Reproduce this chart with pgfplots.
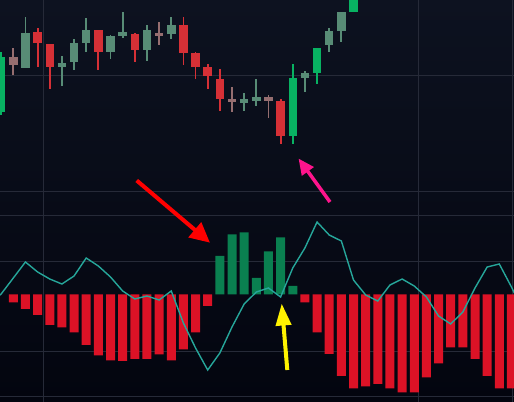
\documentclass[border=0pt]{standalone}
\usepackage{pgfplots}
\pgfplotsset{compat=1.18}
\usepackage{pgfplotstable}
\usetikzlibrary{arrows.meta}

\definecolor{bgtop}{RGB}{13,18,32}
\definecolor{bgbot}{RGB}{3,5,15}
\definecolor{gridc}{RGB}{38,42,56}
\definecolor{upbright}{RGB}{8,178,98}
\definecolor{upmuted}{RGB}{88,140,118}
\definecolor{dnred}{RGB}{214,48,54}
\definecolor{dnmuted}{RGB}{150,110,112}
\definecolor{histred}{RGB}{220,18,38}
\definecolor{histgreen}{RGB}{10,128,80}
\definecolor{sigline}{RGB}{38,166,154}
\definecolor{arrowpink}{RGB}{255,20,140}

% candles: index, open, high, low, close
\pgfplotstableread{
i o h l c
-1 290 350 287 345
23 266 338 258 324
25 329 354 318 354
28 390 416 390 412
}\tabUpBright
\pgfplotstableread{
i o h l c
1 334 385 334 369
4 335 346 316 339
5 340 363 332 359
6 359 384 350 372
8 350 367 343 366
9 366 390 364 370
11 352 377 341 372
13 368 385 363 377
19 299 309 291 303
20 301 323 296 305
24 324 331 310 329
26 357 374 350 371
27 371 390 360 390
}\tabUpMuted
\pgfplotstableread{
i o h l c
2 370 374 335 359
3 358 358 313 335
7 372 372 332 350
10 368 369 340 352
14 377 385 337 349
15 349 350 323 335
16 335 338 313 326
17 323 333 291 303
22 301 303 258 266
}\tabDnRed
\pgfplotstableread{
i o h l c
0 345 354 327 337
12 369 380 357 366
18 303 315 290 300
21 305 307 284 301
}\tabDnMuted

% histogram
\pgfplotstableread{
i v
0 -8
1 -14.5
2 -20.5
3 -30.5
4 -33
5 -38
6 -50.5
7 -61
8 -66
9 -66.5
10 -64.5
11 -64.5
12 -60
13 -66
14 -55
15 -38
16 -11.5
24 -8
25 -38
26 -59.5
27 -81.5
28 -94
29 -92
30 -89.5
31 -94
32 -98
33 -98
34 -83
35 -69
36 -53
37 -53
38 -64.5
39 -81.5
40 -94
41 -94
}\tabHistRed
\pgfplotstableread{
i v
17 38.5
18 60
19 62
20 16.5
21 43
22 57
23 8.5
}\tabHistGreen
\pgfplotstableread{
i v
-1.2 -1.5
-1 0.5
0 16.5
1 32.5
2 22.5
3 15.5
4 10.5
5 18.5
6 36.5
7 28.5
8 17.5
9 3.5
10 -4.5
11 -1.5
12 -5.5
13 3.5
14 -28.5
15 -53.5
16 -75.5
17 -58.5
18 -32.5
19 -9.5
20 2.5
21 6.5
22 -2.5
23 26.5
24 46.5
25 72.5
26 59.5
27 53.5
28 14.5
29 -0.5
30 -6.5
31 9.5
32 15.5
33 8.5
34 -2.5
35 -21.5
36 -29.5
37 -17.5
38 6.5
39 27.5
40 30.5
41 7.5
41.3 0
}\tabSignal

\pgfplotsset{
  panel/.style={at={(0,0)},anchor=south west,scale only axis,
    width=514bp,height=402bp,hide axis,xmin=-1.0947,xmax=41.21,clip=true},
  wick/.style={draw=none,mark=none,forget plot,
    error bars/.cd,y dir=both,y explicit,error mark=none,
    error bar style={draw=#1,line width=1.8bp,solid}},
  body/.style={draw=none,mark=none,forget plot,
    error bars/.cd,y dir=both,y explicit,error mark=none,
    error bar style={draw=#1,line width=8.5bp,line cap=butt,solid}},
}

\begin{document}
\begin{tikzpicture}
\fill[top color=bgtop,bottom color=bgbot] (0,0) rectangle (514bp,402bp);
\foreach \gx in {43,418,512} \draw[gridc,line width=1bp] (\gx bp,0) -- (\gx bp,402bp);
\foreach \gy in {326,210,186,140,50,5} \draw[gridc,line width=1bp] (0,\gy bp) -- (514bp,\gy bp);

% price panel
\begin{axis}[panel,ymin=0,ymax=402]
\addplot[wick=upbright] table[x=i,y expr={(\thisrow{h}+\thisrow{l})/2},y error expr={(\thisrow{h}-\thisrow{l})/2}]{\tabUpBright};
\addplot[body=upbright] table[x=i,y expr={(\thisrow{o}+\thisrow{c})/2},y error expr={max(abs(\thisrow{o}-\thisrow{c})/2,1.2)}]{\tabUpBright};
\addplot[wick=upmuted] table[x=i,y expr={(\thisrow{h}+\thisrow{l})/2},y error expr={(\thisrow{h}-\thisrow{l})/2}]{\tabUpMuted};
\addplot[body=upmuted] table[x=i,y expr={(\thisrow{o}+\thisrow{c})/2},y error expr={max(abs(\thisrow{o}-\thisrow{c})/2,1.2)}]{\tabUpMuted};
\addplot[wick=dnred] table[x=i,y expr={(\thisrow{h}+\thisrow{l})/2},y error expr={(\thisrow{h}-\thisrow{l})/2}]{\tabDnRed};
\addplot[body=dnred] table[x=i,y expr={(\thisrow{o}+\thisrow{c})/2},y error expr={max(abs(\thisrow{o}-\thisrow{c})/2,1.2)}]{\tabDnRed};
\addplot[wick=dnmuted] table[x=i,y expr={(\thisrow{h}+\thisrow{l})/2},y error expr={(\thisrow{h}-\thisrow{l})/2}]{\tabDnMuted};
\addplot[body=dnmuted] table[x=i,y expr={(\thisrow{o}+\thisrow{c})/2},y error expr={max(abs(\thisrow{o}-\thisrow{c})/2,1.2)}]{\tabDnMuted};
\end{axis}

% MACD panel
\begin{axis}[panel,ymin=-107.5,ymax=294.5]
\addplot[ybar,bar width=9bp,bar shift=0pt,fill=histred,draw=none] table[x=i,y=v]{\tabHistRed};
\addplot[ybar,bar width=9bp,bar shift=0pt,fill=histgreen,draw=none] table[x=i,y=v]{\tabHistGreen};
\addplot[sigline,line width=1.4bp,no marks] table[x=i,y=v]{\tabSignal};
\end{axis}

% annotation arrows
\draw[red,line width=4bp,-{Triangle[length=20bp,width=19bp]}] (136.7bp,221.5bp) -- (210bp,159.3bp);
\draw[arrowpink,line width=3.5bp,-{Triangle[length=16bp,width=14bp]}] (330bp,200bp) -- (298.5bp,243.5bp);
\draw[yellow,line width=4bp,-{Triangle[length=22bp,width=15bp]}] (287.3bp,32bp) -- (281.7bp,98.5bp);

\pgfresetboundingbox
\useasboundingbox (0,0) rectangle (514bp,402bp);
\end{tikzpicture}
\end{document}
